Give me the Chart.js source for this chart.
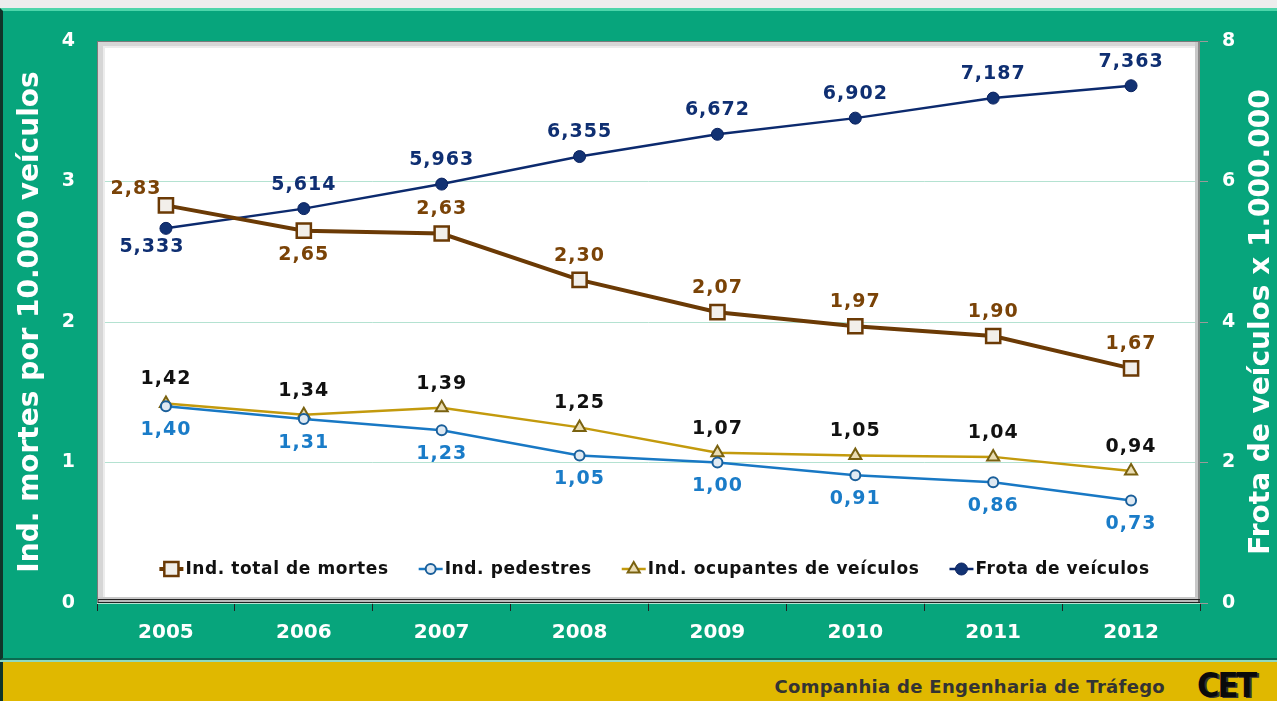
<!DOCTYPE html>
<html>
<head>
<meta charset="utf-8">
<script src="https://cdn.jsdelivr.net/npm/chart.js@4.4.1/dist/chart.umd.min.js"></script>
<style>
  body { margin: 0; width: 1277px; height: 701px; overflow: hidden; position: relative; background: #fff; font-family: "DejaVu Sans", sans-serif; }
  #topstrip { position: absolute; left: 0; top: 0; width: 1277px; height: 8px; background: #ededed; }
  #frame { position: absolute; left: 0; top: 8px; width: 1274px; height: 647px; background: #07a57c;
           border-left: 3px solid #10352a; border-top: 3px solid #4dd5aa; border-bottom: 2px solid #0b6a50; }
  #sep { position: absolute; left: 0; top: 660px; width: 1277px; height: 2px; background: #8fd9bf; }
  #footer { position: absolute; left: 0; top: 662px; width: 1277px; height: 39px; background: #e0b800; border-left: 3px solid #10352a; box-sizing: border-box; }
  #footer .name { position: absolute; right: 112px; top: 14px; font-weight: bold; font-size: 18px; color: #333; letter-spacing: 0.3px; }
  #footer .logo { position: absolute; left: 1194px; top: 6px; font-family: "DejaVu Sans Condensed", "DejaVu Sans", sans-serif; font-weight: bold; font-size: 34px; color: #0a0a0a; letter-spacing: -2px; line-height: 34px; text-shadow: 2px 1px 0 #333; }
  #chart { position: absolute; left: 0; top: 0; }
</style>
</head>
<body>
<div id="topstrip"></div>
<div id="frame"></div>
<div id="sep"></div>
<div id="footer"><span class="name">Companhia de Engenharia de Tráfego</span><span class="logo">CET</span></div>
<canvas id="chart" width="1277" height="658"></canvas>
<script>
const years = ['2005', '2006', '2007', '2008', '2009', '2010', '2011', '2012'];
const totalMortes = [2.83, 2.65, 2.63, 2.30, 2.07, 1.97, 1.90, 1.67];
const pedestres = [1.40, 1.31, 1.23, 1.05, 1.00, 0.91, 0.86, 0.73];
const ocupantes = [1.42, 1.34, 1.39, 1.25, 1.07, 1.05, 1.04, 0.94];
const frota = [5.333, 5.614, 5.963, 6.355, 6.672, 6.902, 7.187, 7.363];
const leftTicks = [0, 1, 2, 3, 4];
const rightTicks = [0, 2, 4, 6, 8];

const FONT = '"DejaVu Sans", sans-serif';

// where each value label sits relative to its point
const labelSpots = {
  total: ['left', 'below', 'above', 'above', 'above', 'above', 'above', 'above'],
  ped: ['below', 'below', 'below', 'below', 'below', 'below', 'below', 'below'],
  ocup: ['above', 'above', 'above', 'above', 'above', 'above', 'above', 'above'],
  frota: ['belowleft', 'above', 'above', 'above', 'above', 'above', 'above', 'above']
};

function fmt(v, d) {
  return v.toFixed(d).replace('.', ',');
}

const plotFrame = {
  id: 'plotFrame',
  beforeDraw(chart) {
    const { ctx, chartArea: a } = chart;
    ctx.save();
    ctx.fillStyle = '#ffffff';
    ctx.fillRect(a.left, a.top, a.right - a.left, a.bottom - a.top);
    ctx.restore();
  },
  beforeDatasetsDraw(chart) {
    const { ctx, chartArea: a } = chart;
    const w = a.right - a.left, h = a.bottom - a.top;
    ctx.save();
    // light bevel top / left
    ctx.fillStyle = '#d6d6d6';
    ctx.fillRect(a.left, a.top, w, 5);
    ctx.fillRect(a.left, a.top, 6, h);
    ctx.fillStyle = '#ececec';
    ctx.fillRect(a.left + 6, a.top + 5, w - 6, 2);
    ctx.fillRect(a.left + 6, a.top + 5, 2, h - 5);
    // shadow right / bottom
    ctx.fillStyle = '#c8c8c8';
    ctx.fillRect(a.right - 5, a.top, 5, h);
    ctx.fillRect(a.left, a.bottom - 6, w, 6);
    ctx.fillStyle = '#8a8a8a';
    ctx.fillRect(a.right - 2, a.top, 2, h);
    ctx.fillStyle = '#222';
    ctx.fillRect(a.left, a.bottom - 4, w, 1.5);
    ctx.fillRect(a.left, a.bottom - 1.5, w, 1.5);
    ctx.fillStyle = '#fff';
    ctx.fillRect(a.left + 2, a.bottom - 2.5, w - 4, 1);
    // outer edge
    ctx.fillStyle = '#7a7a7a';
    ctx.fillRect(a.left, a.top, w, 1);
    ctx.fillRect(a.left, a.top, 1, h);
    ctx.restore();
  }
};

function drawMarker(ctx, ds, x, y) {
  ctx.save();
  ctx.fillStyle = ds.pointBackgroundColor;
  ctx.strokeStyle = ds.pointBorderColor;
  ctx.lineWidth = ds.pointBorderWidth;
  const r = ds.pointRadius;
  ctx.beginPath();
  if (ds.pointStyle === 'rect') {
    const s = r * Math.SQRT1_2;
    ctx.rect(x - s, y - s, 2 * s, 2 * s);
  } else if (ds.pointStyle === 'triangle') {
    ctx.moveTo(x, y - r);
    ctx.lineTo(x + r * 0.866, y + r * 0.5);
    ctx.lineTo(x - r * 0.866, y + r * 0.5);
    ctx.closePath();
  } else {
    ctx.arc(x, y, r, 0, Math.PI * 2);
  }
  ctx.fill();
  ctx.stroke();
  ctx.restore();
}

const innerLegend = {
  id: 'innerLegend',
  afterDatasetsDraw(chart) {
    const { ctx, chartArea: a } = chart;
    const sets = chart.data.datasets;
    ctx.save();
    ctx.font = 'bold 17px ' + FONT;
    ctx.letterSpacing = '0.6px';
    const sample = 24, gap = 30;
    const widths = sets.map(ds => sample + 2 + ctx.measureText(ds.label).width);
    const total = widths.reduce((s, v) => s + v, 0) + gap * (sets.length - 1);
    let x = (a.left + a.right) / 2 - total / 2 + 6;
    const y = 569;
    sets.forEach((ds, i) => {
      ctx.strokeStyle = ds.borderColor;
      ctx.lineWidth = ds.borderWidth;
      ctx.beginPath();
      ctx.moveTo(x, y);
      ctx.lineTo(x + sample, y);
      ctx.stroke();
      drawMarker(ctx, ds, x + sample / 2, y);
      ctx.fillStyle = '#111';
      ctx.textAlign = 'left';
      ctx.textBaseline = 'middle';
      ctx.fillText(ds.label, x + sample + 2, y + 1);
      x += widths[i] + gap;
    });
    ctx.restore();
  }
};

const valueLabels = {
  id: 'valueLabels',
  afterDatasetsDraw(chart) {
    const { ctx } = chart;
    ctx.save();
    ctx.font = 'bold 19px ' + FONT;
    ctx.letterSpacing = '1px';
    ctx.textAlign = 'center';
    ctx.textBaseline = 'middle';
    chart.data.datasets.forEach((ds, di) => {
      const meta = chart.getDatasetMeta(di);
      const spots = labelSpots[ds.key];
      meta.data.forEach((pt, i) => {
        let x = pt.x, y = pt.y;
        const spot = spots[i];
        if (spot === 'above') y -= 24;
        else if (spot === 'below') y += 24;
        else if (spot === 'left') { x -= 30; y -= 16; }
        else if (spot === 'belowleft') { x -= 14; y += 19; }
        ctx.fillStyle = ds.labelColor;
        ctx.fillText(fmt(ds.data[i], ds.decimals), x, y);
      });
    });
    ctx.restore();
  }
};

const rightTitle = {
  id: 'rightTitle',
  afterDraw(chart) {
    const { ctx, chartArea: a } = chart;
    ctx.save();
    ctx.translate(1262, (a.top + a.bottom) / 2);
    ctx.rotate(-Math.PI / 2);
    ctx.font = 'bold 28px ' + FONT;
    ctx.fillStyle = '#fff';
    ctx.textAlign = 'center';
    ctx.textBaseline = 'middle';
    ctx.fillText('Frota de veículos x 1.000.000', 0, 0);
    ctx.restore();
  }
};

new Chart(document.getElementById('chart'), {
  type: 'line',
  data: {
    labels: years,
    datasets: [
      {
        key: 'total', label: 'Ind. total de mortes', data: totalMortes, yAxisID: 'y',
        borderColor: '#6b3a05', borderWidth: 4, pointStyle: 'rect', pointRadius: 10,
        pointBackgroundColor: '#f2efea', pointBorderColor: '#6b3a05', pointBorderWidth: 2.5,
        labelColor: '#7a4307', decimals: 2
      },
      {
        key: 'ped', label: 'Ind. pedestres', data: pedestres, yAxisID: 'y',
        borderColor: '#1878c4', borderWidth: 2.5, pointStyle: 'circle', pointRadius: 5,
        pointBackgroundColor: '#dfe9f2', pointBorderColor: '#1a5f9a', pointBorderWidth: 2,
        labelColor: '#1a7cc8', decimals: 2
      },
      {
        key: 'ocup', label: 'Ind. ocupantes de veículos', data: ocupantes, yAxisID: 'y',
        borderColor: '#c39a0d', borderWidth: 2.5, pointStyle: 'triangle', pointRadius: 7,
        pointBackgroundColor: '#e9dcb2', pointBorderColor: '#7a6210', pointBorderWidth: 2,
        labelColor: '#111111', decimals: 2
      },
      {
        key: 'frota', label: 'Frota de veículos', data: frota, yAxisID: 'y1',
        borderColor: '#0c2a6e', borderWidth: 2.5, pointStyle: 'circle', pointRadius: 6,
        pointBackgroundColor: '#123273', pointBorderColor: '#0a2260', pointBorderWidth: 1,
        labelColor: '#0f2f72', decimals: 3
      }
    ]
  },
  options: {
    responsive: false,
    animation: false,
    devicePixelRatio: 1,
    layout: { padding: { top: 41, left: 0, right: 0, bottom: 0 } },
    plugins: { legend: { display: false }, tooltip: { enabled: false } },
    elements: { line: { tension: 0 } },
    scales: {
      x: {
        offset: true,
        afterFit(scale) { scale.height = 55; },
        border: { display: false },
        grid: { offset: true, drawOnChartArea: false, drawTicks: true, tickLength: 8, color: '#222', lineWidth: 1 },
        ticks: { color: '#fff', padding: 10, font: { family: FONT, size: 20, weight: 'bold' } }
      },
      y: {
        position: 'left', min: 0, max: 4,
        afterFit(scale) { scale.width = 97; },
        afterBuildTicks(scale) { scale.ticks = leftTicks.map(v => ({ value: v })); },
        border: { display: false },
        grid: { color: '#b4e2d1', lineWidth: 1, drawTicks: false },
        ticks: { color: '#fff', padding: 22, font: { family: FONT, size: 19, weight: 'bold' } },
        title: {
          display: true, text: 'Ind. mortes por 10.000 veículos', color: '#fff',
          padding: { top: 14, bottom: 0 }, font: { family: FONT, size: 28, weight: 'bold' }
        }
      },
      y1: {
        position: 'right', min: 0, max: 8,
        afterFit(scale) { scale.width = 77; },
        afterBuildTicks(scale) { scale.ticks = rightTicks.map(v => ({ value: v })); },
        border: { display: false },
        grid: { drawOnChartArea: false, drawTicks: true, tickLength: 8, color: '#9a9a9a' },
        ticks: { color: '#fff', padding: 14, font: { family: FONT, size: 19, weight: 'bold' } }
      }
    }
  },
  plugins: [plotFrame, valueLabels, innerLegend, rightTitle]
});
</script>
</body>
</html>
